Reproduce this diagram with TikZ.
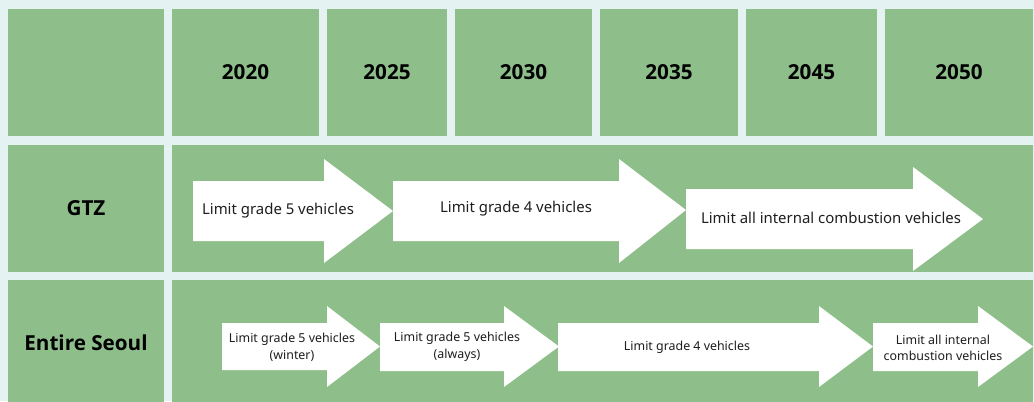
\documentclass[tikz,border=0pt]{standalone}
\usepackage{fontspec}
\setmainfont{Noto Sans}
\newfontfamily\headfont{Open Sans}
\definecolor{bgcyan}{HTML}{E4F2F1}
\definecolor{cellgreen}{HTML}{8EBE8A}
\definecolor{textgray}{HTML}{1E1E1E}

\begin{document}
\begin{tikzpicture}[x=0.75pt, y=-0.75pt,
    cell/.style={fill=cellgreen},
    yearlabel/.style={font=\headfont\bfseries\fontsize{15.5}{18}\selectfont},
    rowlabel/.style={font=\headfont\bfseries\fontsize{15.5}{18}\selectfont},
    bigtext/.style={text=textgray, align=center, font=\fontsize{11.2}{13.5}\selectfont},
    smalltext/.style={text=textgray, align=center, font=\fontsize{9.3}{12.5}\selectfont}]

    \useasboundingbox (0,0) rectangle (1034,401);

    % background
    \fill[bgcyan] (0,0) rectangle (1034,401);

    % header row
    \fill[cell] (8,9) rectangle (164,136);
    \fill[cell] (172,9) rectangle node[yearlabel] (y2020) {2020} (319,136);
    \fill[cell] (327,9) rectangle node[yearlabel] (y2025) {2025} (447,136);
    \fill[cell] (455,9) rectangle node[yearlabel] (y2030) {2030} (592,136);
    \fill[cell] (600,9) rectangle node[yearlabel] (y2035) {2035} (738,136);
    \fill[cell] (746,9) rectangle node[yearlabel] (y2045) {2045} (877,136);
    \fill[cell] (885,9) rectangle node[yearlabel] (y2050) {2050} (1033,136);

    % GTZ row
    \fill[cell] (8,145) rectangle node[rowlabel] (gtz) {GTZ} (164,271.5);
    \fill[cell] (172,145) rectangle (1033,271.5);

    \fill[white] (193,181) -- (324,181) -- (324,159) -- (393,211) -- (324,263) -- (324,241) -- (193,241) -- cycle;
    \fill[white] (393,181) -- (619,181) -- (619,159) -- (686,210) -- (619,263) -- (619,241) -- (393,241) -- cycle;
    \fill[white] (686,189) -- (913,189) -- (913,167) -- (983,219) -- (913,271) -- (913,249) -- (686,249) -- cycle;

    \node[bigtext] (gtzA) at (278,211) {Limit grade 5 vehicles};
    \node[bigtext] (gtzB) at (516,209) {Limit grade 4 vehicles};
    \node[bigtext] (gtzC) at (831,218) {Limit all internal combustion vehicles};

    % Entire Seoul row
    \fill[cell] (8,279.5) rectangle node[rowlabel] (seoul) {Entire Seoul} (164,406);
    \fill[cell] (172,279.5) rectangle (1033,406);

    \fill[white] (222,323) -- (327,323) -- (327,306) -- (380,346.5) -- (327,387) -- (327,370) -- (222,370) -- cycle;
    \fill[white] (380,323) -- (504,323) -- (504,306) -- (559,346.5) -- (504,387) -- (504,371) -- (380,371) -- cycle;
    \fill[white] (558,323) -- (819,323) -- (819,306) -- (873,346.5) -- (819,387) -- (819,371) -- (558,371) -- cycle;
    \fill[white] (873,323) -- (978,323) -- (978,306) -- (1033,346.5) -- (978,387) -- (978,371) -- (873,371) -- cycle;

    \node[smalltext] (seoulA) at (292,347) {Limit grade 5 vehicles\\(winter)};
    \node[smalltext] (seoulB) at (457,347) {Limit grade 5 vehicles\\(always)};
    \node[smalltext] (seoulC) at (687,347) {Limit grade 4 vehicles};
    \node[smalltext] (seoulD) at (943,348) {Limit all internal\\combustion vehicles};
\end{tikzpicture}
\end{document}
